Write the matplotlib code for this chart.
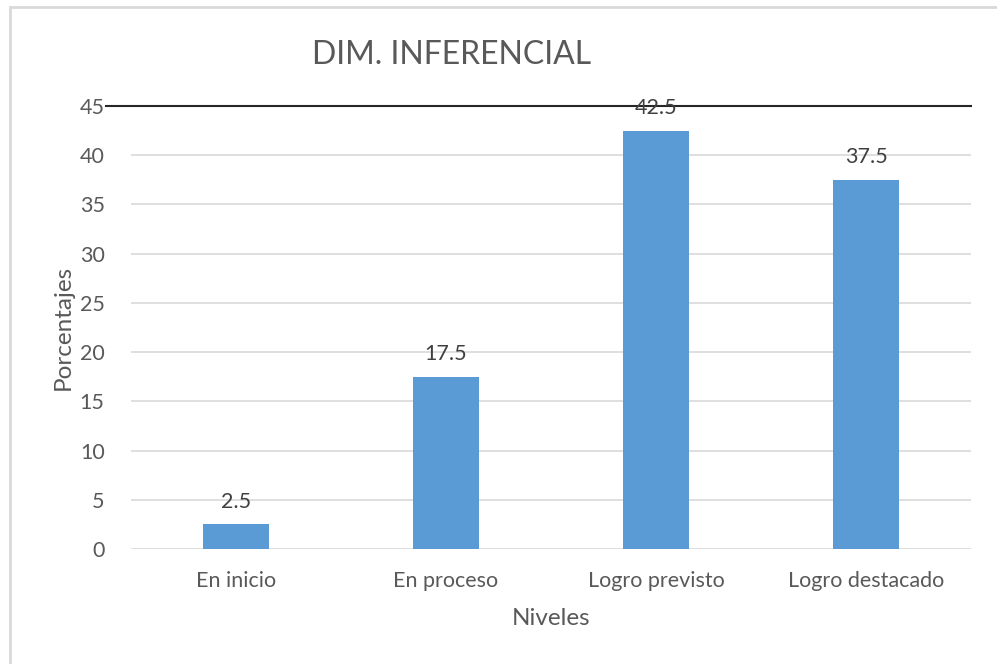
import matplotlib
matplotlib.use('Agg')
import matplotlib.pyplot as plt
from matplotlib.patches import Rectangle
from matplotlib.lines import Line2D

# ── Datos ────────────────────────────────────────────────────────────────────
niveles = ['En inicio', 'En proceso', 'Logro previsto', 'Logro destacado']
porcentajes = [2.5, 17.5, 42.5, 37.5]
yticks = [0, 5, 10, 15, 20, 25, 30, 35, 40, 45]

BAR = '#5B9BD5'
TXT = '#595959'
LAB = '#404040'
GRID = '#D9D9D9'

plt.rcParams['font.family'] = ['Lato', 'DejaVu Sans']

fig = plt.figure(figsize=(9.97, 6.64), dpi=100, facecolor='white')
ax = fig.add_axes([131 / 997, 115 / 664, 840 / 997, 443 / 664])

# marco exterior del gráfico
fig.patches.append(Rectangle((10 / 997, -0.1), 1.2, (664 - 7) / 664 + 0.1,
                             transform=fig.transFigure, fill=False,
                             edgecolor=GRID, linewidth=2))

x = range(len(niveles))
bars = ax.bar(x, porcentajes, width=0.314, color=BAR, zorder=3)
for xi, v in zip(x, porcentajes):
    ax.annotate(f'{v}', (xi, v), xytext=(0, 9), textcoords='offset points',
                ha='center', va='bottom', fontsize=15.5, color=LAB, zorder=4)

ax.set_xlim(-0.5, len(niveles) - 0.5)
ax.set_ylim(0, 45)
ax.set_yticks(yticks)
ax.set_yticklabels([str(t) for t in yticks])
ax.set_xticks(list(x))
ax.set_xticklabels(niveles)
ax.tick_params(axis='both', length=0, labelsize=15.5, colors=TXT)
ax.tick_params(axis='y', pad=19)
ax.tick_params(axis='x', pad=16)

ax.grid(axis='y', color=GRID, linewidth=1.2, zorder=0)
for s in ax.spines.values():
    s.set_visible(False)

# línea superior oscura en 45
ax.add_line(Line2D([-0.03, 1.0], [1.0, 1.0], transform=ax.transAxes,
                   color='#262626', linewidth=1.5, clip_on=False, zorder=2))

ax.set_xlabel('Niveles', fontsize=17.5, color=TXT, labelpad=12)
ax.set_ylabel('Porcentajes', fontsize=17.5, color=TXT, labelpad=4)
fig.text(452 / 997, 1 - 55 / 664, 'DIM. INFERENCIAL', ha='center', va='center',
         fontsize=23, color=TXT)

fig.savefig('out.png', dpi=100, facecolor='white')
